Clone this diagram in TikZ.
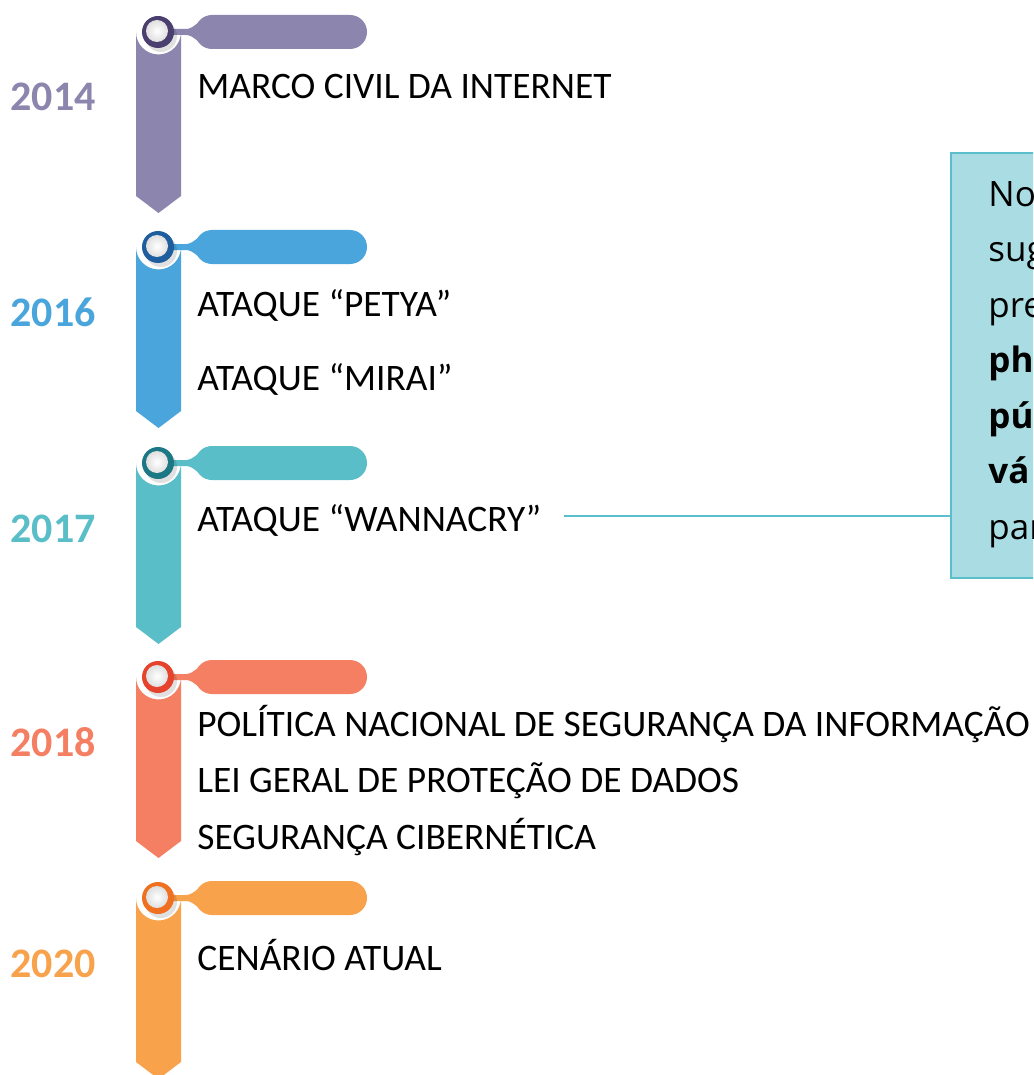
\documentclass[tikz,border=0pt]{standalone}
\usepackage{fontspec}
\setmainfont{Carlito}
\newfontfamily\boxfont{Open Sans}
\usepackage{tikz}
\usetikzlibrary{positioning}

\definecolor{c2014}{HTML}{8C85AD}
\definecolor{d2014}{HTML}{4A3F6E}
\definecolor{c2016}{HTML}{49A5DB}
\definecolor{d2016}{HTML}{1F5E9E}
\definecolor{c2017}{HTML}{5ABEC9}
\definecolor{d2017}{HTML}{1C7884}
\definecolor{c2018}{HTML}{F47F63}
\definecolor{d2018}{HTML}{E5432B}
\definecolor{c2020}{HTML}{F8A24B}
\definecolor{d2020}{HTML}{EE7020}
\definecolor{notefill}{HTML}{A9DDE3}
\definecolor{noteline}{HTML}{5BBFCB}

\tikzset{
  yearlabel/.style={font=\fontsize{21}{24}\selectfont\bfseries, anchor=base, inner sep=0pt},
  eventtext/.style={font=\fontsize{18.7}{22}\selectfont, anchor=base west, inner sep=0pt},
  notebox/.style={draw=noteline, line width=1.1pt, fill=notefill, anchor=north west,
    minimum width=200pt, minimum height=212.5pt, inner sep=0pt},
  notetext/.style={font=\boxfont\fontsize{17.5}{20}\selectfont, anchor=base west, inner sep=0pt},
}

\begin{document}
\begin{tikzpicture}[x=0.5pt, y=-0.5pt]
  \clip (0,0) rectangle (1033,1075);
  \fill[white] (0,0) rectangle (1033,1075);

  % markers of the timeline
  \foreach \yr/\cy in {2014/32, 2016/247, 2017/463, 2018/677, 2020/898} {
    % bar with arrow point
    \fill[c\yr] (136,\cy) arc[start angle=180, end angle=0, radius=22.5]
      -- (181,\cy+164) -- (158.5,\cy+181) -- (136,\cy+164) -- cycle;
    % pill and neck
    \fill[c\yr, rounded corners=8.5pt] (195,\cy-17) rectangle (367,\cy+17);
    \fill[c\yr] (170,\cy-3) -- (186,\cy-3) .. controls (194,\cy-3) and (198,\cy-12) .. (212,\cy-17)
      -- (212,\cy+17) .. controls (198,\cy+12) and (194,\cy+3) .. (186,\cy+3) -- (170,\cy+3) -- cycle;
    % shadow and ring
    \fill[black, opacity=0.12] (161,\cy+4) circle[radius=16];
    \fill[d\yr] (158,\cy) circle[radius=16];
    \shade[inner color=white, outer color=gray!25] (157,\cy-1) circle[radius=11];
    \node[yearlabel, text=c\yr] (y\yr) at (53,\cy+79) {\yr};
  }

  % events
  \node[eventtext] (marco) at (197,99) {MARCO CIVIL DA INTERNET};
  \node[eventtext] (petya) at (197,316) {ATAQUE “PETYA”};
  \node[eventtext] (mirai) at (197,390) {ATAQUE “MIRAI”};
  \node[eventtext] (wannacry) at (197,531) {ATAQUE “WANNACRY”};
  \node[eventtext] (pnsi) at (197,736) {POLÍTICA NACIONAL DE SEGURANÇA DA INFORMAÇÃO};
  \node[eventtext] (lgpd) at (197,792) {LEI GERAL DE PROTEÇÃO DE DADOS};
  \node[eventtext] (ciber) at (197,849) {SEGURANÇA CIBERNÉTICA};
  \node[eventtext] (atual) at (197,970) {CENÁRIO ATUAL};

  % note box on the right
  \node[notebox] (note) at (950,152) {};
  \node[notetext] (n1) at (988,206) {No};
  \node[notetext] (n2) at (988,261.5) {sug};
  \node[notetext] (n3) at (988,317) {pre};
  \node[notetext] (n4) at (988,372.5) {\bfseries ph};
  \node[notetext] (n5) at (988,428) {\bfseries pú};
  \node[notetext] (n6) at (988,483.5) {\bfseries vá};
  \node[notetext] (n7) at (988,539) {par};

  \draw[noteline, line width=1pt] ([xshift=11pt,yshift=7.5pt]wannacry.base east) -- ([yshift=7.5pt]wannacry.base east -| note.west);
\end{tikzpicture}
\end{document}
